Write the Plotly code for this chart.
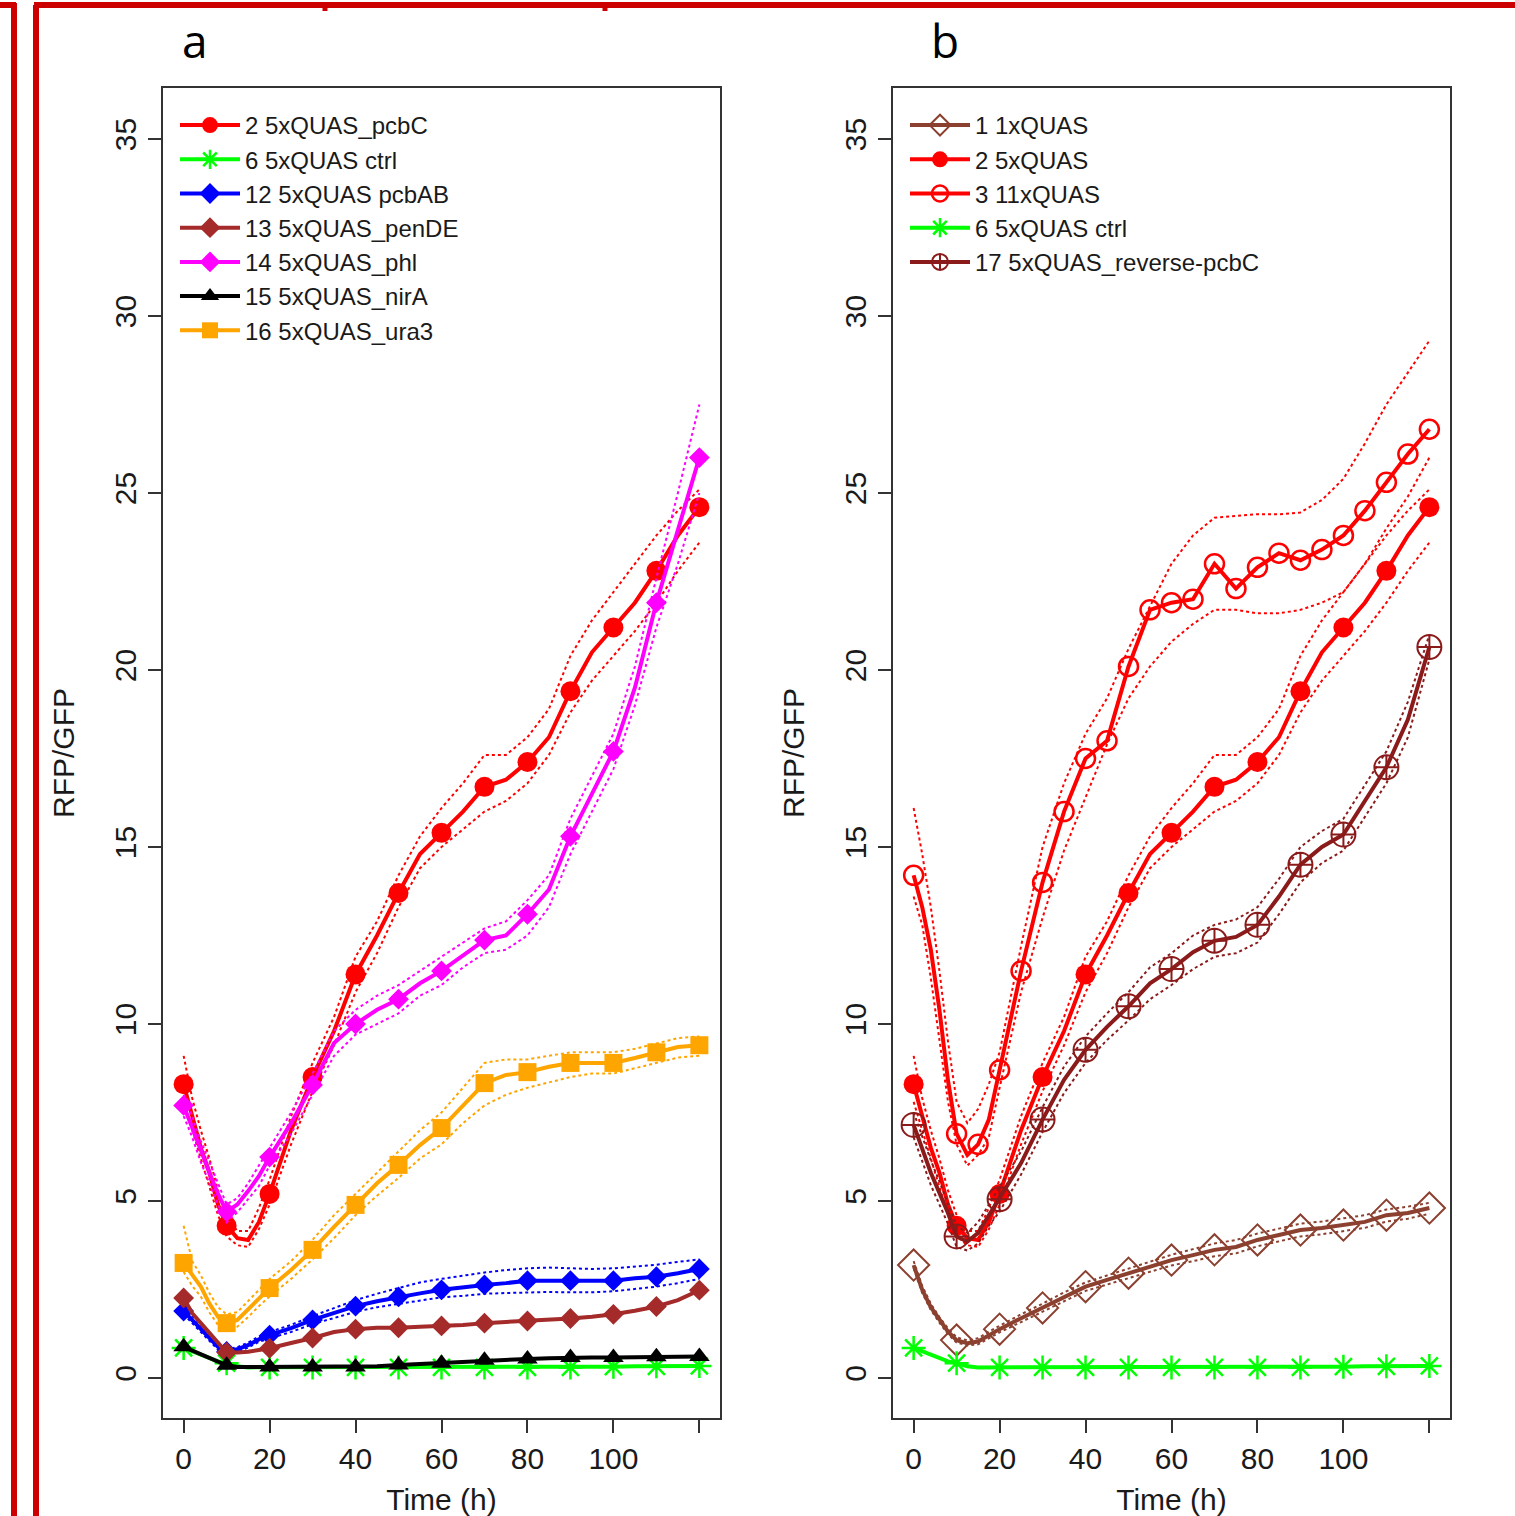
import plotly.graph_objects as go

# ---------------- data ----------------
T = [0, 2, 4, 6, 8, 10, 12.5, 15, 17.5, 20, 25, 30, 35, 40, 45, 50, 55, 60,
     65, 70, 75, 80, 85, 90, 95, 100, 105, 110, 115, 120]

# panel a
pcbC_mean = [8.3, 7.4, 6.5, 5.8, 4.9, 4.3, 3.95, 3.9, 4.4, 5.2, 7.0, 8.5, 9.8, 11.4, 12.5,
             13.7, 14.8, 15.4, 16.0, 16.7, 16.9, 17.4, 18.1, 19.4, 20.5, 21.2, 21.9, 22.8, 23.8, 24.6]
pcbC_hi = [9.1, 7.9, 7.0, 6.2, 5.3, 4.6, 4.15, 4.15, 4.8, 5.6, 7.4, 8.9, 10.2, 11.9, 12.9,
           14.2, 15.3, 16.1, 16.8, 17.6, 17.6, 18.1, 18.9, 20.4, 21.4, 22.2, 23.0, 23.8, 24.5, 25.1]
pcbC_lo = [7.8, 7.0, 6.2, 5.4, 4.6, 4.0, 3.75, 3.7, 4.2, 4.9, 6.6, 8.1, 9.4, 10.9, 12.0,
           13.3, 14.4, 15.0, 15.5, 16.0, 16.3, 16.8, 17.6, 18.8, 19.7, 20.4, 21.1, 21.9, 22.8, 23.6]

ctrl_mean = [0.85, 0.75, 0.65, 0.55, 0.47, 0.42, 0.33, 0.30, 0.30, 0.30, 0.30, 0.30, 0.30, 0.30, 0.30,
             0.30, 0.30, 0.30, 0.30, 0.30, 0.30, 0.30, 0.30, 0.30, 0.31, 0.32, 0.33, 0.33, 0.34, 0.34]

pcbAB_mean = [1.89, 1.64, 1.40, 1.12, 0.88, 0.75, 0.81, 0.93, 1.09, 1.21, 1.41, 1.64, 1.84, 2.03, 2.17,
              2.29, 2.39, 2.49, 2.57, 2.63, 2.68, 2.75, 2.75, 2.75, 2.74, 2.75, 2.82, 2.86, 2.96, 3.08]
pcbAB_hi = [2.0, 1.75, 1.5, 1.2, 0.95, 0.8, 0.87, 1.0, 1.17, 1.3, 1.5, 1.75, 1.98, 2.2, 2.38,
            2.55, 2.7, 2.8, 2.9, 2.98, 3.05, 3.1, 3.12, 3.1, 3.08, 3.1, 3.15, 3.2, 3.28, 3.35]
pcbAB_lo = [1.8, 1.55, 1.3, 1.05, 0.8, 0.68, 0.74, 0.86, 1.02, 1.12, 1.3, 1.52, 1.7, 1.87, 2.0,
            2.1, 2.2, 2.28, 2.32, 2.38, 2.4, 2.42, 2.43, 2.42, 2.42, 2.45, 2.52, 2.58, 2.68, 2.8]

penDE_mean = [2.26, 1.83, 1.55, 1.27, 0.99, 0.72, 0.72, 0.74, 0.79, 0.84, 0.99, 1.13, 1.30, 1.38, 1.42,
              1.42, 1.45, 1.47, 1.50, 1.55, 1.58, 1.61, 1.64, 1.68, 1.73, 1.80, 1.90, 2.02, 2.20, 2.48]

phl_mean = [7.7, 7.1, 6.44, 5.8, 5.2, 4.7, 4.9, 5.28, 5.7, 6.24, 7.2, 8.28, 9.46, 10.0, 10.4,
            10.7, 11.15, 11.5, 11.95, 12.37, 12.5, 13.1, 13.8, 15.3, 16.5, 17.7, 19.5, 21.9, 23.95, 26.0]
phl_hi = [8.0, 7.4, 6.7, 6.1, 5.5, 4.9, 5.08, 5.5, 6.0, 6.5, 7.5, 8.6, 9.8, 10.4, 10.8,
          11.1, 11.5, 11.9, 12.3, 12.7, 12.9, 13.5, 14.2, 15.8, 17.0, 18.2, 20.1, 22.6, 25.0, 27.5]
phl_lo = [7.4, 6.8, 6.1, 5.5, 4.9, 4.4, 4.68, 5.05, 5.42, 6.0, 6.9, 8.0, 9.1, 9.7, 10.0,
          10.3, 10.8, 11.1, 11.6, 12.0, 12.1, 12.5, 13.3, 14.8, 16.0, 17.2, 19.0, 21.2, 23.0, 25.0]

nirA_mean = [0.88, 0.78, 0.68, 0.55, 0.45, 0.36, 0.31, 0.31, 0.31, 0.31, 0.31, 0.31, 0.31, 0.31, 0.33,
             0.37, 0.40, 0.42, 0.45, 0.50, 0.52, 0.54, 0.56, 0.58, 0.58, 0.58, 0.59, 0.60, 0.60, 0.61]

ura3_mean = [3.25, 2.9, 2.58, 2.1, 1.73, 1.55, 1.64, 1.94, 2.24, 2.54, 3.05, 3.62, 4.27, 4.89, 5.5,
             6.02, 6.58, 7.06, 7.7, 8.33, 8.56, 8.64, 8.79, 8.9, 8.9, 8.9, 9.04, 9.2, 9.35, 9.4]
ura3_hi = [4.3, 3.3, 2.9, 2.4, 2.0, 1.8, 1.86, 2.17, 2.48, 2.8, 3.3, 3.9, 4.6, 5.2, 5.8,
           6.4, 7.0, 7.5, 8.2, 8.9, 9.0, 9.0, 9.1, 9.2, 9.2, 9.2, 9.3, 9.45, 9.6, 9.65]
ura3_lo = [3.0, 2.6, 2.3, 1.85, 1.5, 1.35, 1.45, 1.72, 2.03, 2.3, 2.8, 3.35, 3.95, 4.6, 5.15,
           5.65, 6.2, 6.6, 7.2, 7.7, 8.0, 8.2, 8.35, 8.5, 8.6, 8.6, 8.75, 8.9, 9.05, 9.1]

# panel b
q1_mean = [3.19, 2.49, 2.0, 1.64, 1.31, 1.07, 0.98, 1.03, 1.21, 1.38, 1.69, 1.98, 2.3, 2.58, 2.77,
           2.96, 3.14, 3.33, 3.47, 3.62, 3.7, 3.9, 4.04, 4.18, 4.24, 4.32, 4.41, 4.6, 4.66, 4.8]
q1_hi = [3.3, 2.6, 2.1, 1.72, 1.4, 1.15, 1.06, 1.12, 1.31, 1.48, 1.8, 2.1, 2.42, 2.7, 2.9,
         3.1, 3.3, 3.48, 3.64, 3.8, 3.9, 4.08, 4.22, 4.36, 4.42, 4.5, 4.6, 4.76, 4.84, 4.95]
q1_lo = [3.1, 2.4, 1.92, 1.56, 1.24, 1.0, 0.92, 0.95, 1.12, 1.29, 1.58, 1.87, 2.18, 2.46, 2.64,
         2.82, 3.0, 3.18, 3.3, 3.44, 3.52, 3.72, 3.86, 4.0, 4.06, 4.14, 4.24, 4.42, 4.5, 4.64]

q11_mean = [14.2, 13.3, 12.1, 10.4, 8.4, 6.9, 6.3, 6.6, 7.3, 8.7, 11.5, 14.0, 16.0, 17.5, 18.0,
            20.1, 21.7, 21.9, 22.0, 23.0, 22.3, 22.9, 23.3, 23.1, 23.4, 23.8, 24.5, 25.3, 26.1, 26.8]
q11_hi = [16.1, 14.8, 13.3, 11.5, 9.5, 7.8, 7.2, 7.6, 8.3, 9.2, 12.2, 15.0, 16.8, 18.2, 19.2,
          20.6, 21.8, 23.0, 23.8, 24.3, 24.35, 24.4, 24.4, 24.45, 24.8, 25.4, 26.4, 27.5, 28.4, 29.3]
q11_lo = [13.6, 12.8, 11.3, 9.6, 7.8, 6.6, 6.0, 6.3, 6.8, 8.2, 10.9, 13.0, 14.9, 16.4, 17.9,
          19.2, 20.1, 20.8, 21.3, 21.7, 21.7, 21.6, 21.6, 21.7, 21.9, 22.2, 23.0, 24.0, 24.9, 26.0]

rev_mean = [7.15, 6.44, 5.8, 5.23, 4.66, 4.0, 3.85, 4.1, 4.6, 5.05, 6.07, 7.3, 8.42, 9.27, 9.92,
            10.5, 11.15, 11.55, 12.03, 12.35, 12.46, 12.8, 13.6, 14.5, 15.0, 15.35, 16.3, 17.25, 18.6, 20.65]
rev_hi = [7.5, 6.8, 6.15, 5.55, 4.95, 4.3, 4.1, 4.4, 4.9, 5.4, 6.4, 7.65, 8.8, 9.65, 10.3,
          10.9, 11.6, 12.0, 12.5, 12.8, 12.95, 13.3, 14.1, 15.0, 15.45, 15.8, 16.75, 17.7, 19.1, 21.0]
rev_lo = [6.8, 6.1, 5.45, 4.9, 4.35, 3.7, 3.6, 3.8, 4.3, 4.7, 5.75, 6.95, 8.05, 8.9, 9.55,
          10.1, 10.7, 11.1, 11.55, 11.9, 12.0, 12.3, 13.1, 14.0, 14.55, 14.9, 15.85, 16.8, 18.1, 20.3]

X_TICKS = [0, 20, 40, 60, 80, 100, 120]
X_TICK_TEXT = ["0", "20", "40", "60", "80", "100", ""]
Y_TICKS = [0, 5, 10, 15, 20, 25, 30, 35]

# ---------------- styles ----------------
FONT = "Liberation Sans, Arial, sans-serif"
W, H = 1515, 1516

panel_a = [
    dict(name="2 5xQUAS_pcbC", y=pcbC_mean, hi=pcbC_hi, lo=pcbC_lo, color="#FF0000",
         symbol="circle", size=20, mlw=0, every=10),
    dict(name="6 5xQUAS ctrl", y=ctrl_mean, color="#00FF00", symbol="asterisk-open", size=20, mlw=2.5, every=10),
    dict(name="12 5xQUAS pcbAB", y=pcbAB_mean, hi=pcbAB_hi, lo=pcbAB_lo, color="#0000FF",
         symbol="diamond", size=16, mlw=0, every=10),
    dict(name="13 5xQUAS_penDE", y=penDE_mean, color="#A52A2A", symbol="diamond", size=16, mlw=0, every=10),
    dict(name="14 5xQUAS_phl", y=phl_mean, hi=phl_hi, lo=phl_lo, color="#FF00FF",
         symbol="diamond", size=16, mlw=0, every=10),
    dict(name="15 5xQUAS_nirA", y=nirA_mean, color="#000000", symbol="triangle-up", size=18, mlw=0, every=10),
    dict(name="16 5xQUAS_ura3", y=ura3_mean, hi=ura3_hi, lo=ura3_lo, color="#FFA500",
         symbol="square", size=18, mlw=0, every=10),
]
panel_b = [
    dict(name="1 1xQUAS", y=q1_mean, hi=q1_hi, lo=q1_lo, color="#8B4030", symbol="diamond-open",
         size=24, mlw=2, every=10),
    dict(name="2 5xQUAS", y=pcbC_mean, hi=pcbC_hi, lo=pcbC_lo, color="#FF0000",
         symbol="circle", size=20, mlw=0, every=10),
    dict(name="3 11xQUAS", y=q11_mean, hi=q11_hi, lo=q11_lo, color="#FF0000", symbol="circle-open",
         size=19, mlw=2.5, every=5),
    dict(name="6 5xQUAS ctrl", y=ctrl_mean, color="#00FF00", symbol="asterisk-open", size=20, mlw=2.5, every=10),
    dict(name="17 5xQUAS_reverse-pcbC", y=rev_mean, hi=rev_hi, lo=rev_lo, color="#8B1A1A",
         symbol="circle-cross-open", size=24, mlw=2, every=10),
]

fig = go.Figure()


def add_series(s, xa, ya, legend):
    c = s["color"]
    for band in ("hi", "lo"):
        if band in s:
            fig.add_trace(go.Scatter(x=T, y=s[band], mode="lines", xaxis=xa, yaxis=ya,
                                     line=dict(color=c, width=2, dash="dot"),
                                     showlegend=False, hoverinfo="skip"))
    fig.add_trace(go.Scatter(x=T, y=s["y"], mode="lines", xaxis=xa, yaxis=ya,
                             line=dict(color=c, width=4), showlegend=False, name=s["name"]))
    mx = [t for t in T if t % s["every"] == 0]
    my = [v for t, v in zip(T, s["y"]) if t % s["every"] == 0]
    marker = dict(color=c, symbol=s["symbol"], size=s["size"], line=dict(color=c, width=s["mlw"]))
    fig.add_trace(go.Scatter(x=mx, y=my, mode="markers", xaxis=xa, yaxis=ya, marker=marker,
                             showlegend=False, name=s["name"]))
    # legend entry
    fig.add_trace(go.Scatter(x=[None], y=[None], mode="lines+markers", xaxis=xa, yaxis=ya,
                             name=s["name"], legend=legend, marker=marker,
                             line=dict(color=c, width=4)))


for s in panel_a:
    add_series(s, "x", "y", "legend")
for s in panel_b:
    add_series(s, "x2", "y2", "legend2")

# ---------------- axes ----------------
def px_x(p):
    return p / W


def px_y(p):
    return 1 - p / H


y_dom = [px_y(1418), px_y(88)]
common_x = dict(range=[-4.8, 124.8], tickvals=X_TICKS, ticktext=X_TICK_TEXT, ticks="outside",
                ticklen=13, tickwidth=2, tickcolor="#333", showline=True, linecolor="#333",
                linewidth=2, mirror=True, showgrid=False, zeroline=False,
                tickfont=dict(family=FONT, size=30, color="#1a1a1a"),
                title=dict(text="Time (h)", font=dict(family=FONT, size=30, color="#1a1a1a"), standoff=16))
common_y = dict(range=[-1.13, 36.44], tickvals=Y_TICKS, ticks="outside", ticklen=13, tickwidth=2,
                tickcolor="#333", showline=True, linecolor="#333", linewidth=2, mirror=True,
                showgrid=False, zeroline=False, tickangle=-90,
                tickfont=dict(family=FONT, size=30, color="#1a1a1a"),
                title=dict(text="RFP/GFP", font=dict(family=FONT, size=30, color="#1a1a1a"), standoff=26))

fig.update_layout(
    xaxis=dict(domain=[px_x(163), px_x(720)], anchor="y", **common_x),
    yaxis=dict(domain=y_dom, anchor="x", **common_y),
    xaxis2=dict(domain=[px_x(893), px_x(1450)], anchor="y2", **common_x),
    yaxis2=dict(domain=y_dom, anchor="x2", **common_y),
)

legend_common = dict(xanchor="left", yanchor="top", bgcolor="rgba(0,0,0,0)", borderwidth=0,
                     font=dict(family=FONT, size=24, color="#1a1a1a"), itemwidth=60,
                     tracegroupgap=0, itemclick=False, itemdoubleclick=False)
fig.update_layout(
    legend=dict(x=px_x(175), y=px_y(103), **legend_common),
    legend2=dict(x=px_x(905), y=px_y(103), **legend_common),
)

# ---------------- panel letters & red frame ----------------
for letter, lx in (("a", 195), ("b", 945)):
    fig.add_annotation(text=letter, x=px_x(lx), y=px_y(40), xref="paper", yref="paper",
                       showarrow=False, xanchor="center", yanchor="middle",
                       font=dict(family="Open Sans, Liberation Sans, sans-serif", size=46, color="black"))

RED = "#CC0000"
frame = [
    dict(x0=14, y0=3, x1=14, y1=H),
    dict(x0=0, y0=5, x1=16, y1=5),
    dict(x0=36, y0=5, x1=36, y1=H),
    dict(x0=34, y0=5, x1=W, y1=5),
]
for f in frame:
    fig.add_shape(type="line", xref="paper", yref="paper",
                  x0=px_x(f["x0"]), x1=px_x(f["x1"]), y0=px_y(f["y0"]), y1=px_y(f["y1"]),
                  line=dict(color=RED, width=6))
for bx in (325, 605):
    fig.add_shape(type="line", xref="paper", yref="paper", x0=px_x(bx), x1=px_x(bx),
                  y0=px_y(5), y1=px_y(11), line=dict(color=RED, width=5))

fig.update_layout(width=W, height=H, margin=dict(l=0, r=0, t=0, b=0),
                  paper_bgcolor="white", plot_bgcolor="white", showlegend=True)

fig.write_html("out.html", config={"displayModeBar": False},
               post_script="document.body.style.margin='0';document.body.style.overflow='hidden';")
